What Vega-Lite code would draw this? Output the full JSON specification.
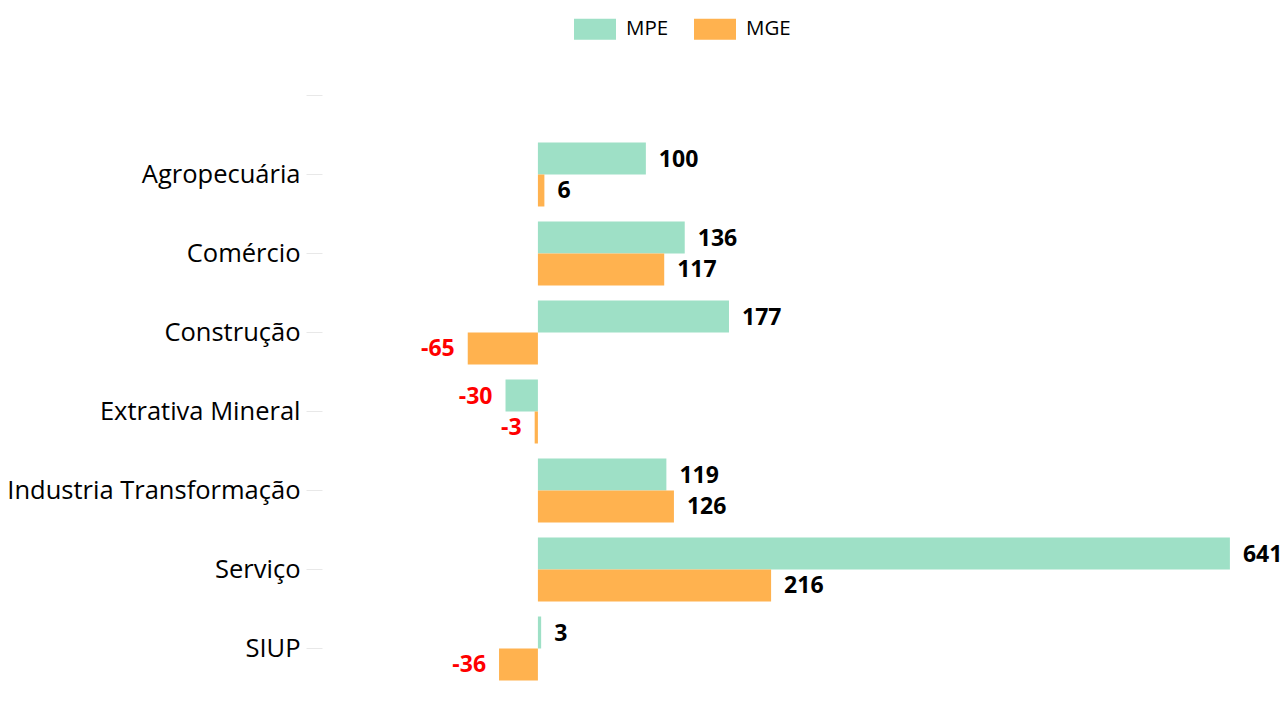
{
  "$schema": "https://vega.github.io/schema/vega-lite/v6.json",
  "autosize": "none",
  "width": 950,
  "height": 632,
  "padding": {"left": 322, "top": 56, "right": 14, "bottom": 31},
  "background": "white",
  "config": {"view": {"stroke": null}},
  "data": {
    "values": [
      {"cat": "Agropecuária", "series": "MPE", "value": 100},
      {"cat": "Agropecuária", "series": "MGE", "value": 6},
      {"cat": "Comércio", "series": "MPE", "value": 136},
      {"cat": "Comércio", "series": "MGE", "value": 117},
      {"cat": "Construção", "series": "MPE", "value": 177},
      {"cat": "Construção", "series": "MGE", "value": -65},
      {"cat": "Extrativa Mineral", "series": "MPE", "value": -30},
      {"cat": "Extrativa Mineral", "series": "MGE", "value": -3},
      {"cat": "Industria Transformação", "series": "MPE", "value": 119},
      {"cat": "Industria Transformação", "series": "MGE", "value": 126},
      {"cat": "Serviço", "series": "MPE", "value": 641},
      {"cat": "Serviço", "series": "MGE", "value": 216},
      {"cat": "SIUP", "series": "MPE", "value": 3},
      {"cat": "SIUP", "series": "MGE", "value": -36}
    ]
  },
  "encoding": {
    "y": {
      "field": "cat",
      "type": "nominal",
      "scale": {
        "domain": [" ", "Agropecuária", "Comércio", "Construção", "Extrativa Mineral", "Industria Transformação", "Serviço", "SIUP"],
        "paddingInner": 0.19,
        "paddingOuter": 0.095
      },
      "axis": {
        "title": null,
        "domain": false,
        "ticks": true,
        "tickColor": "#e8e8e8",
        "tickSize": 16,
        "tickWidth": 1,
        "labelPadding": 6,
        "labelFont": "Open Sans",
        "labelFontSize": 25.5,
        "labelColor": "#000000",
        "labelLimit": 500,
        "grid": false
      }
    },
    "yOffset": {"field": "series", "type": "nominal", "sort": ["MPE", "MGE"], "scale": {"paddingInner": 0, "paddingOuter": 0}},
    "x": {
      "field": "value",
      "type": "quantitative",
      "scale": {"domain": [-200, 680], "nice": false, "zero": true},
      "axis": null
    }
  },
  "layer": [
    {
      "mark": {"type": "bar"},
      "encoding": {
        "color": {
          "field": "series",
          "type": "nominal",
          "sort": ["MPE", "MGE"],
          "scale": {"domain": ["MPE", "MGE"], "range": ["#9ee0c6", "#ffb24f"]},
          "legend": {
            "title": null,
            "orient": "none",
            "legendX": 252,
            "legendY": -48,
            "direction": "horizontal",
            "symbolType": "M-1,-0.5H1V0.5H-1Z",
            "symbolSize": 1764,
            "symbolStrokeWidth": 0,
            "symbolOpacity": 1,
            "labelFont": "Open Sans",
            "labelFontSize": 20.5,
            "labelColor": "#000000",
            "labelOffset": 10,
            "columnPadding": 25,
            "padding": 0
          }
        }
      }
    },
    {
      "transform": [{"filter": "datum.value >= 0"}],
      "mark": {"type": "text", "align": "left", "baseline": "middle", "dx": 13, "dy": 1, "font": "Open Sans", "fontSize": 23, "fontWeight": "bold", "color": "#000000"},
      "encoding": {"text": {"field": "value", "type": "nominal"}}
    },
    {
      "transform": [{"filter": "datum.value < 0"}],
      "mark": {"type": "text", "align": "right", "baseline": "middle", "dx": -13, "dy": 1, "font": "Open Sans", "fontSize": 23, "fontWeight": "bold", "color": "#ff0000"},
      "encoding": {"text": {"field": "value", "type": "nominal"}}
    }
  ]
}
